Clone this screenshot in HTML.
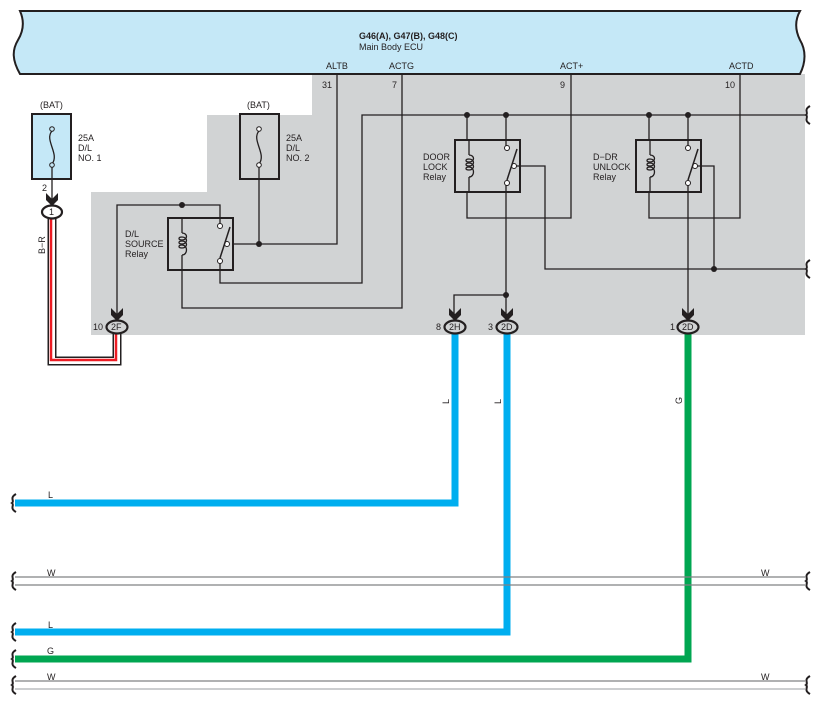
<!DOCTYPE html>
<html><head><meta charset="utf-8"><style>
html,body{margin:0;padding:0;background:#fff}
svg{display:block}
text{font-family:"Liberation Sans",sans-serif;font-size:9px;fill:#231f20}
</style></head><body>
<svg width="817" height="707" viewBox="0 0 817 707" xmlns="http://www.w3.org/2000/svg">
<defs>
<g id="relay">
  <rect x="0" y="0" width="65" height="52" fill="none" stroke="#231f20" stroke-width="2"/>
  <path d="M14,0 V15 M14,37 V52" stroke="#231f20" stroke-width="1.3" fill="none"/>
  <path d="M14,15 C20,15 20,22 14,22 C10,22 10,19 14,19 C20,19 20,26 14,26 C10,26 10,23 14,23 C20,23 20,30 14,30 C10,30 10,27 14,27 C20,27 20,37 14,37" stroke="#231f20" stroke-width="1.3" fill="none"/>
  <circle cx="52" cy="8" r="2.5" fill="#fff" stroke="#231f20" stroke-width="1"/>
  <circle cx="59" cy="26" r="2.5" fill="#fff" stroke="#231f20" stroke-width="1"/>
  <circle cx="52" cy="43" r="2.5" fill="#fff" stroke="#231f20" stroke-width="1"/>
  <path d="M52,40 L62,9" stroke="#231f20" stroke-width="1.5"/>
</g>
<g id="chev"><path d="M-6,-12 L0,-6 L6,-12 L6,-5 L0,1 L-6,-5 Z" fill="#231f20"/></g>
<g id="wave"><path d="M4,-9 C-3,-5 3,-2 0,0 C3,2 -3,5 4,9" fill="none" stroke="#231f20" stroke-width="2"/></g>
</defs>

<polygon points="312,74 805,74 805,335 91,335 91,192 207,192 207,115 312,115" fill="#d1d3d4"/>

<path d="M20,11 H800 C795,20 795,30 800,40 C806,50 806,62 800,74 H20 C12,60 12,50 18,40 C24,30 24,20 20,11 Z" fill="#c5e8f7" stroke="#231f20" stroke-width="2"/>
<text x="359" y="39" style="font-weight:bold">G46(A), G47(B), G48(C)</text>
<text x="359" y="50">Main Body ECU</text>
<text x="326" y="69">ALTB</text>
<text x="389" y="69">ACTG</text>
<text x="560" y="69">ACT+</text>
<text x="729" y="69">ACTD</text>
<text x="322" y="88">31</text>
<text x="392" y="88">7</text>
<text x="560" y="88">9</text>
<text x="725" y="88">10</text>

<text x="40" y="108">(BAT)</text>
<rect x="32" y="114" width="39" height="65" fill="#c5e8f7" stroke="#231f20" stroke-width="2"/>
<text x="247" y="108">(BAT)</text>
<rect x="240" y="114" width="39" height="65" fill="none" stroke="#231f20" stroke-width="2"/>
<g stroke="#231f20" stroke-width="1.3" fill="none">
<path d="M52,131 C44,140 60,154 52,164"/>
<path d="M259,131 C251,140 267,154 259,164"/>
<path d="M52,166 V200"/>
<path d="M259,166 V244"/>
</g>
<circle cx="52" cy="129" r="2.3" fill="#c5e8f7" stroke="#231f20"/>
<circle cx="52" cy="165" r="2.3" fill="#c5e8f7" stroke="#231f20"/>
<circle cx="259" cy="129" r="2.3" fill="#fff" stroke="#231f20"/>
<circle cx="259" cy="165" r="2.3" fill="#fff" stroke="#231f20"/>
<text x="78" y="141">25A</text><text x="78" y="151">D/L</text><text x="78" y="161">NO. 1</text>
<text x="286" y="141">25A</text><text x="286" y="151">D/L</text><text x="286" y="161">NO. 2</text>
<text x="42" y="191">2</text>

<g stroke="#231f20" stroke-width="1.3" fill="none">
<path d="M117,316 V205 H220 V226"/>
<path d="M234,244 H337 V74"/>
<path d="M220,261 V283 H362 V115 H805"/>
<path d="M182,270 V308 H402 V74"/>
<path d="M467,115 V140 M506,115 V148"/>
<path d="M513,166 H545 V269 H805"/>
<path d="M506,183 V316 M506,295 H454 V316"/>
<path d="M467,192 V218 H571 V74"/>
<path d="M649,115 V140 M688,115 V148"/>
<path d="M695,166 H714 V269"/>
<path d="M649,192 V218 H740 V74"/>
<path d="M688,183 V316"/>
</g>
<g fill="#231f20">
<circle cx="182" cy="205" r="3"/><circle cx="259" cy="244" r="3"/>
<circle cx="467" cy="115" r="3"/><circle cx="506" cy="115" r="3"/>
<circle cx="649" cy="115" r="3"/><circle cx="688" cy="115" r="3"/>
<circle cx="714" cy="269" r="3"/><circle cx="506" cy="295" r="3"/>
</g>
<use href="#relay" x="168" y="218"/>
<use href="#relay" x="455" y="140"/>
<use href="#relay" x="636" y="140"/>
<text x="125" y="237">D/L</text><text x="125" y="247">SOURCE</text><text x="125" y="257">Relay</text>
<text x="423" y="160">DOOR</text><text x="423" y="170">LOCK</text><text x="423" y="180">Relay</text>
<text x="593" y="160">D−DR</text><text x="593" y="170">UNLOCK</text><text x="593" y="180">Relay</text>
<use href="#wave" x="806" y="115"/>
<use href="#wave" x="806" y="269"/>

<path d="M52,218 V361 H117 V333" fill="none" stroke="#231f20" stroke-width="9"/>
<path d="M52,218 V361 H117 V333" fill="none" stroke="#fff" stroke-width="6"/>
<path d="M51,218 V360 H116 V333" fill="none" stroke="#ed1c24" stroke-width="2.5"/>
<text transform="translate(45,254) rotate(-90)">B−R</text>

<path d="M455,333 V503 H15" fill="none" stroke="#00aeef" stroke-width="7"/>
<path d="M507,333 V632 H15" fill="none" stroke="#00aeef" stroke-width="7"/>
<path d="M688,333 V659 H15" fill="none" stroke="#00a651" stroke-width="7"/>
<g stroke="#808285" stroke-width="1.2">
<path d="M15,577 H805 M15,585 H805 M15,681 H805"/>
</g>
<path d="M15,689 H805" stroke="#bcbec0" stroke-width="1.5"/>
<text transform="translate(449,404) rotate(-90)">L</text>
<text transform="translate(501,404) rotate(-90)">L</text>
<text transform="translate(682,404) rotate(-90)">G</text>
<text x="48" y="498">L</text>
<text x="47" y="576">W</text><text x="761" y="576">W</text>
<text x="48" y="628">L</text>
<text x="47" y="654">G</text>
<text x="47" y="680">W</text><text x="761" y="680">W</text>
<use href="#wave" x="12" y="503"/>
<use href="#wave" x="12" y="581"/>
<use href="#wave" x="12" y="632"/>
<use href="#wave" x="12" y="659"/>
<use href="#wave" x="12" y="685"/>
<use href="#wave" x="806" y="581"/>
<use href="#wave" x="806" y="685"/>

<use href="#chev" x="52" y="205"/>
<ellipse cx="52" cy="212" rx="10" ry="6.5" fill="#fff" stroke="#231f20" stroke-width="2.2"/>
<text x="49" y="215">1</text>
<use href="#chev" x="117" y="320"/>
<ellipse cx="117" cy="327" rx="10.5" ry="6.5" fill="#d1d3d4" stroke="#231f20" stroke-width="2.2"/>
<text x="111" y="330" style="fill:#231f20">2F</text><text x="93" y="330">10</text>
<use href="#chev" x="455" y="320"/>
<ellipse cx="455" cy="327" rx="10.5" ry="6.5" fill="#d1d3d4" stroke="#231f20" stroke-width="2.2"/>
<text x="449" y="330" style="fill:#231f20">2H</text><text x="436" y="330">8</text>
<use href="#chev" x="507" y="320"/>
<ellipse cx="507" cy="327" rx="10.5" ry="6.5" fill="#d1d3d4" stroke="#231f20" stroke-width="2.2"/>
<text x="501" y="330" style="fill:#231f20">2D</text><text x="488" y="330">3</text>
<use href="#chev" x="688" y="320"/>
<ellipse cx="688" cy="327" rx="10.5" ry="6.5" fill="#d1d3d4" stroke="#231f20" stroke-width="2.2"/>
<text x="682" y="330" style="fill:#231f20">2D</text><text x="670" y="330">1</text>
</svg>
</body></html>
